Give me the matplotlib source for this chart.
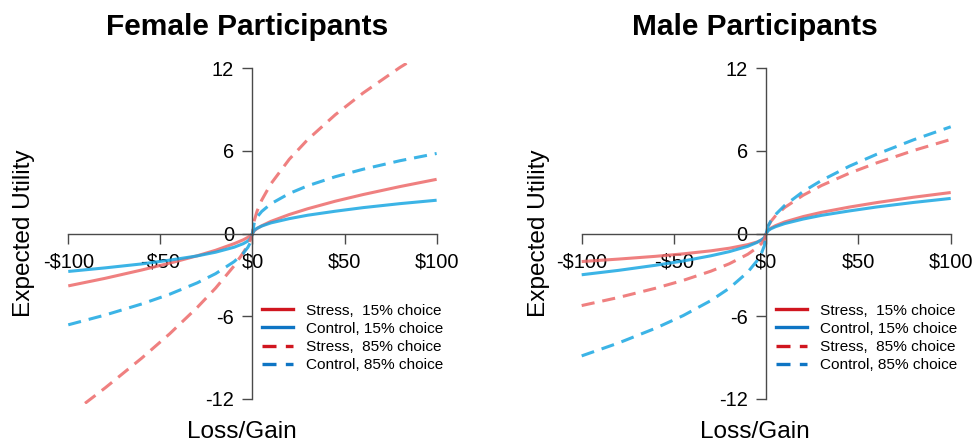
import numpy as np
import matplotlib
matplotlib.use("Agg")
import matplotlib.pyplot as plt
from matplotlib.lines import Line2D

plt.rcParams['font.family'] = ['Liberation Sans', 'DejaVu Sans']

# Dollar magnitudes at which each utility curve is sampled (gains: +, losses: -)
magnitudes = [0, 1, 2.5, 5, 10, 20, 30, 45, 60, 80, 100]

# Female participants: expected utility for gains and losses (by magnitude)
female_stress15_gain = [0, 0.20, 0.36, 0.56, 0.88, 1.38, 1.80, 2.35, 2.83, 3.41, 3.94]
female_stress15_loss = [0, -0.15, -0.28, -0.46, -0.74, -1.22, -1.62, -2.16, -2.65, -3.26, -3.81]
female_control15_gain = [0, 0.24, 0.38, 0.54, 0.77, 1.08, 1.33, 1.62, 1.88, 2.17, 2.42]
female_control15_loss = [0, -0.36, -0.55, -0.74, -1.00, -1.36, -1.63, -1.94, -2.21, -2.50, -2.76]
female_stress85_gain = [0, 0.95, 1.62, 2.42, 3.61, 5.40, 6.83, 8.64, 10.21, 12.07, 13.73]
female_stress85_loss = [0, -0.42, -0.84, -1.40, -2.36, -3.97, -5.38, -7.30, -9.05, -11.23, -13.28]
female_control85_gain = [0, 0.80, 1.19, 1.60, 2.16, 2.91, 3.47, 4.13, 4.67, 5.29, 5.82]
female_control85_loss = [0, -0.63, -1.01, -1.44, -2.05, -2.92, -3.59, -4.42, -5.12, -5.93, -6.64]

# Male participants
male_stress15_gain = [0, 0.24, 0.39, 0.57, 0.84, 1.23, 1.54, 1.92, 2.25, 2.64, 2.98]
male_stress15_loss = [0, -0.32, -0.47, -0.62, -0.81, -1.07, -1.26, -1.48, -1.66, -1.86, -2.04]
male_control15_gain = [0, 0.20, 0.34, 0.49, 0.72, 1.05, 1.32, 1.64, 1.93, 2.26, 2.55]
male_control15_loss = [0, -0.29, -0.46, -0.65, -0.93, -1.32, -1.62, -2.00, -2.31, -2.68, -3.00]
male_stress85_gain = [0, 0.52, 0.87, 1.28, 1.89, 2.78, 3.49, 4.38, 5.14, 6.04, 6.84]
male_stress85_loss = [0, -0.44, -0.72, -1.04, -1.51, -2.20, -2.74, -3.41, -3.98, -4.65, -5.24]
male_control85_gain = [0, 0.54, 0.91, 1.37, 2.04, 3.05, 3.86, 4.89, 5.77, 6.82, 7.76]
male_control85_loss = [0, -0.89, -1.41, -1.99, -2.81, -3.98, -4.88, -5.97, -6.89, -7.96, -8.90]

x_ticks = [-100, -50, 0, 50, 100]
x_tick_labels = [r'-\$100', r'-\$50', r'\$0', r'\$50', r'\$100']
y_ticks = [-12, -6, 0, 6, 12]
y_tick_labels = ['-12', '-6', '0', '6', '12']
legend_labels = ['Stress,  15% choice', 'Control, 15% choice',
                 'Stress,  85% choice', 'Control, 85% choice']

curve_color = {'Stress': '#ED6A6A', 'Control': '#1AA7E2'}
legend_color = {'Stress': '#D0161F', 'Control': '#0E75C4'}
axis_color = '#4a4a4a'
dashed = (0, (4.3, 2.6))

panels = [
    ('Female Participants', [
        ('Stress', '-', female_stress15_gain, female_stress15_loss),
        ('Control', '-', female_control15_gain, female_control15_loss),
        ('Stress', dashed, female_stress85_gain, female_stress85_loss),
        ('Control', dashed, female_control85_gain, female_control85_loss),
    ]),
    ('Male Participants', [
        ('Stress', '-', male_stress15_gain, male_stress15_loss),
        ('Control', '-', male_control15_gain, male_control15_loss),
        ('Stress', dashed, male_stress85_gain, male_stress85_loss),
        ('Control', dashed, male_control85_gain, male_control85_loss),
    ]),
]

W, H = 972, 443
fig = plt.figure(figsize=(W / 100, H / 100), dpi=100)

axes_px = [(60.9, 383.1), (574.3, 383.8)]   # left edge, width in pixels
ax_bottom_px, ax_height_px = 404.3, 341.6
title_x = [247, 755]
ylabel_x = [24, 538.5]
xlabel_x = [242, 755]

mag = np.array(magnitudes, dtype=float)
x_all = np.concatenate([-mag[::-1], mag[1:]])

for i, (title, curves) in enumerate(panels):
    left, width = axes_px[i]
    ax = fig.add_axes([left / W, (H - ax_bottom_px) / H, width / W, ax_height_px / H])
    ax.set_xlim(-104, 104)
    ax.set_ylim(-12.42, 12.42)

    for group, ls, gain, loss in curves:
        u = np.concatenate([np.array(loss)[::-1], np.array(gain)[1:]])
        ax.plot(x_all, u, color=curve_color[group], linestyle=ls, lw=2.2,
                alpha=0.85, solid_capstyle='butt', dash_capstyle='butt')

    for side in ['top', 'right']:
        ax.spines[side].set_visible(False)
    ax.spines['left'].set_position(('data', 0))
    ax.spines['bottom'].set_position(('data', 0))
    ax.spines['left'].set_bounds(-12, 12)
    ax.spines['bottom'].set_bounds(-100, 100)
    for side in ['left', 'bottom']:
        ax.spines[side].set_color(axis_color)
        ax.spines[side].set_linewidth(1.0)

    ax.set_xticks(x_ticks)
    ax.set_xticklabels(x_tick_labels)
    ax.set_yticks(y_ticks)
    ax.set_yticklabels(y_tick_labels)
    ax.tick_params(axis='both', direction='out', length=7.2, width=1.0,
                   color=axis_color, labelsize=14.4, labelcolor='black')
    ax.tick_params(axis='x', pad=6.6)
    ax.tick_params(axis='y', pad=6)
    ax.patch.set_visible(False)

    handles = [
        Line2D([], [], color=legend_color['Stress'], lw=2.4, linestyle='-'),
        Line2D([], [], color=legend_color['Control'], lw=2.4, linestyle='-'),
        Line2D([], [], color=legend_color['Stress'], lw=2.4, linestyle=(0, (4.2, 2.8))),
        Line2D([], [], color=legend_color['Control'], lw=2.4, linestyle=(0, (4.2, 2.8))),
    ]
    ax.legend(handles, legend_labels, loc='upper left', bbox_to_anchor=(0.525, 0.295),
              frameon=False, fontsize=11.1, handlelength=2.0, handletextpad=0.85,
              labelspacing=0.28, borderpad=0, borderaxespad=0)

    fig.text(title_x[i] / W, (H - 35) / H, title, ha='center', va='baseline',
             fontsize=21.5, fontweight='bold')
    fig.text(ylabel_x[i] / W, (H - 233) / H, 'Expected Utility', rotation=90,
             ha='center', va='center', fontsize=17.6)
    fig.text(xlabel_x[i] / W, 5 / H, 'Loss/Gain', ha='center', va='baseline',
             fontsize=17.6)

fig.savefig('out.png', dpi=100)
